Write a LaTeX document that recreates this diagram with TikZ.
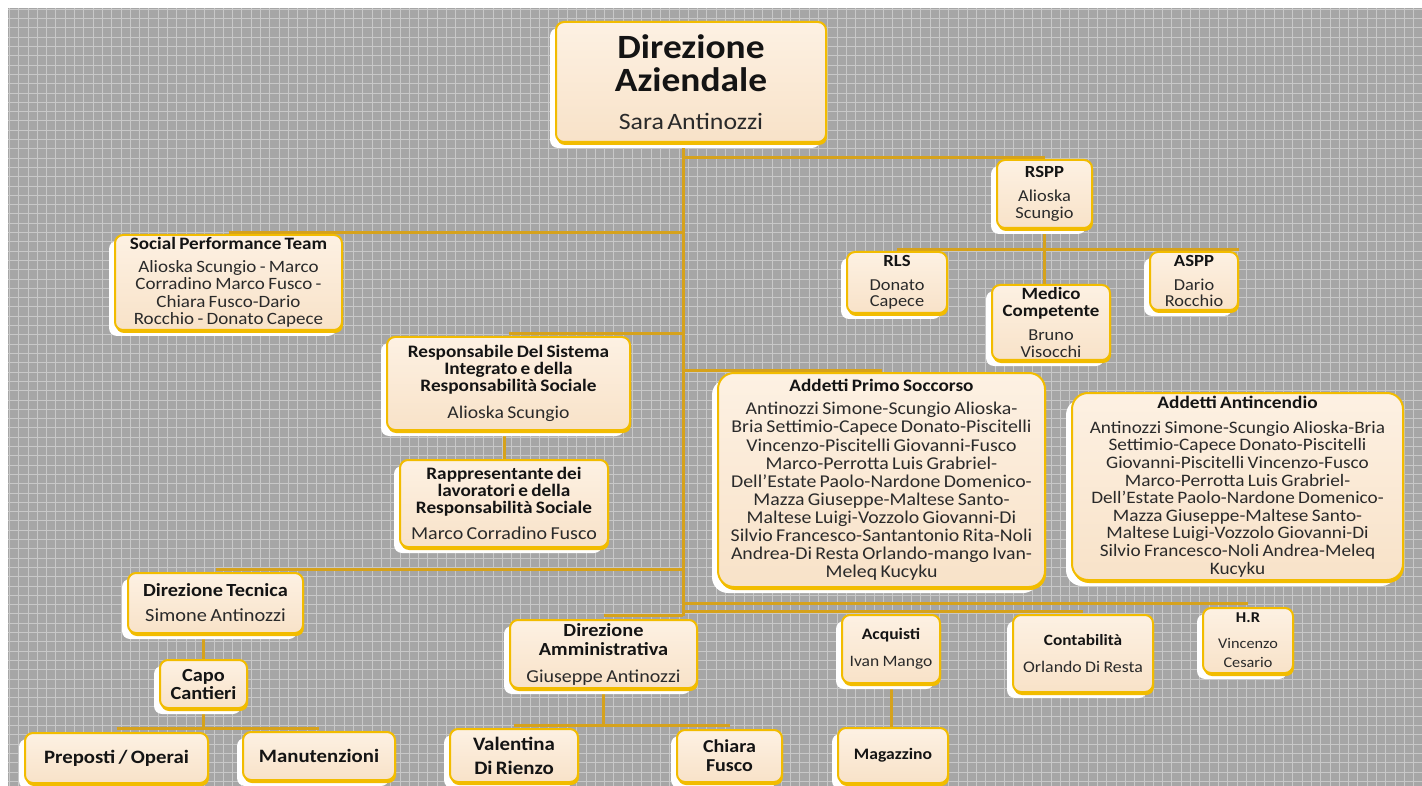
\documentclass[tikz,border=0pt]{standalone}
\usepackage{fontspec}
\setmainfont{Carlito}[FakeStretch=1.1]
\usetikzlibrary{shadows,backgrounds}
\definecolor{bggrey}{HTML}{A6A6A6}
\definecolor{gridc}{HTML}{C8C8C8}
\definecolor{boxgold}{HTML}{F2BC00}
\definecolor{boxfill}{HTML}{F8E2C8}
\definecolor{boxtop}{HTML}{FDF1E3}
\definecolor{linec}{HTML}{D6A21C}
\definecolor{txt}{HTML}{141414}
\definecolor{nametxt}{HTML}{2A2A2A}
\newcommand\Hd[3]{{\fontsize{#1}{#2}\selectfont\bfseries #3\par}}
\newcommand\Nm[3]{{\fontsize{#1}{#2}\selectfont\color{nametxt}#3\par}}
\tikzset{
  box/.style={draw=boxgold, line width=2pt, top color=boxtop, bottom color=boxfill,
    rounded corners=8pt, align=center, inner sep=1pt, text=txt,
    general shadow={fill=white, shadow xshift=-6pt, shadow yshift=-6pt},
    general shadow={fill=boxgold, shadow xshift=1pt, shadow yshift=-3pt}},
  bigbox/.style={box, rounded corners=16pt}
}
\tikzset{conn/.style={draw=linec, line width=3pt}}
\begin{document}
\begin{tikzpicture}[x=1pt,y=-1pt]
\useasboundingbox (0,0) rectangle (1422,786);

% junction coordinates
\coordinate (ttop) at (683,142);
\coordinate (tbot) at (683,616);
\coordinate (j1) at (683,158);
\coordinate (j2) at (683,233);
\coordinate (j3) at (683,334);
\coordinate (j4) at (683,370);
\coordinate (j5) at (683,569);
\coordinate (j6) at (683,615);
\coordinate (j7) at (683,603);
\coordinate (j8) at (683,611);
\coordinate (r1) at (885,250);
\coordinate (cc) at (203.5,728);
\coordinate (dc) at (603.5,725);

% boxes
\node[box, minimum width=270pt, minimum height=120pt, text width=266pt] (da) at (691,82)
  {\Hd{34}{33}{Direzione\\Aziendale}\vspace{14pt}\Nm{23.5}{24}{Sara Antinozzi}};
\node[box, minimum width=95pt, minimum height=68pt, text width=93pt] (rspp) at (1044.5,194)
  {\Hd{17}{17}{RSPP}\vspace{7.5pt}\Nm{16.7}{16.5}{Alioska\\Scungio}};
\node[box, minimum width=100pt, minimum height=61pt, text width=98pt] (rls) at (897,282.5)
  {\Hd{17}{17}{RLS}\vspace{7.5pt}\Nm{16.7}{16}{Donato\\Capece}};
\node[box, minimum width=118pt, minimum height=75pt, text width=116pt] (med) at (1051,322.5)
  {\Hd{17.2}{17}{Medico\\Competente}\vspace{7.5pt}\Nm{16.7}{16.5}{Bruno\\Visocchi}};
\node[box, minimum width=88pt, minimum height=58pt, text width=86pt] (aspp) at (1194,281)
  {\Hd{17}{17}{ASPP}\vspace{7.5pt}\Nm{16.7}{16}{Dario\\Rocchio}};
\node[box, minimum width=227pt, minimum height=95pt, text width=225pt] (spt) at (228.5,282.5)
  {\Hd{17.4}{17}{Social Performance Team}\vspace{5.5pt}\Nm{17.3}{17.5}{Alioska Scungio - Marco\\Corradino Marco Fusco -\\Chiara Fusco-Dario\\Rocchio - Donato Capece}};
\node[box, minimum width=243pt, minimum height=93pt, text width=241pt] (resp) at (508.5,383.5)
  {\Hd{17.5}{16.7}{Responsabile Del Sistema\\Integrato e della\\Responsabilità Sociale}\vspace{9pt}\Nm{17.9}{18}{Alioska Scungio}};
\node[box, minimum width=208pt, minimum height=87pt, text width=206pt] (rapp) at (504,503.5)
  {\Hd{17.5}{17.2}{Rappresentante dei\\lavoratori e della\\Responsabilità Sociale}\vspace{8pt}\Nm{18.2}{18}{Marco Corradino Fusco}};
\node[bigbox, minimum width=327pt, minimum height=214pt, text width=325pt] (aps) at (881.5,480)
  {\Hd{17.5}{18}{Addetti Primo Soccorso}\vspace{5pt}\Nm{18}{18.1}{Antinozzi Simone-Scungio Alioska-\\Bria Settimio-Capece Donato-Piscitelli\\Vincenzo-Piscitelli Giovanni-Fusco\\Marco-Perrotta Luis Grabriel-\\Dell'Estate Paolo-Nardone Domenico-\\Mazza Giuseppe-Maltese Santo-\\Maltese Luigi-Vozzolo Giovanni-Di\\Silvio Francesco-Santantonio Rita-Noli\\Andrea-Di Resta Orlando-mango Ivan-\\Meleq Kucyku}};
\node[bigbox, minimum width=331pt, minimum height=187pt, text width=329pt] (aai) at (1237.5,486.5)
  {\Hd{17.6}{18}{Addetti Antincendio}\vspace{7.4pt}\Nm{17.5}{17.6}{Antinozzi Simone-Scungio Alioska-Bria\\Settimio-Capece Donato-Piscitelli\\Giovanni-Piscitelli Vincenzo-Fusco\\Marco-Perrotta Luis Grabriel-\\Dell'Estate Paolo-Nardone Domenico-\\Mazza Giuseppe-Maltese Santo-\\Maltese Luigi-Vozzolo Giovanni-Di\\Silvio Francesco-Noli Andrea-Meleq\\Kucyku}};
\node[box, minimum width=175pt, minimum height=60pt, text width=173pt] (dt) at (215.5,603)
  {\Hd{18.5}{19}{Direzione Tecnica}\vspace{6pt}\Nm{18.5}{19}{Simone Antinozzi}};
\node[box, minimum width=87pt, minimum height=48pt, text width=85pt] (capo) at (203.5,684)
  {\Hd{18.5}{18}{Capo\\Cantieri}};
\node[box, minimum width=183pt, minimum height=50pt, text width=181pt] (prep) at (116.5,758)
  {\Hd{18.9}{19}{Preposti / Operai}};
\node[box, minimum width=152pt, minimum height=48pt, text width=150pt] (man) at (319,756)
  {\Hd{18.9}{19}{Manutenzioni}};
\node[box, minimum width=187pt, minimum height=68pt, text width=185pt] (dam) at (603.5,654)
  {\Hd{18.5}{19}{Direzione\\Amministrativa}\vspace{8pt}\Nm{18.2}{19}{Giuseppe Antinozzi}};
\node[box, minimum width=128pt, minimum height=53pt, text width=126pt] (val) at (514,755.5)
  {\Hd{19}{24}{Valentina\\Di Rienzo}};
\node[box, minimum width=105pt, minimum height=52pt, text width=103pt] (chi) at (729.5,756)
  {\Hd{18.2}{19}{Chiara\\Fusco}};
\node[box, minimum width=98pt, minimum height=68pt, text width=96pt] (acq) at (891,649)
  {\Hd{16}{17}{Acquisti}\vspace{10pt}\Nm{15.9}{17}{Ivan Mango}};
\node[box, minimum width=110pt, minimum height=55pt, text width=108pt] (mag) at (893,755.5)
  {\Hd{16}{17}{Magazzino}};
\node[box, minimum width=140pt, minimum height=77pt, text width=138pt] (cont) at (1083,653.5)
  {\Hd{15.7}{17}{Contabilità}\vspace{10pt}\Nm{16.2}{17}{Orlando Di Resta}};
\node[box, minimum width=90pt, minimum height=65pt, text width=88pt] (hr) at (1248,640.5)
  {\Hd{15}{16}{H.R}\vspace{7pt}\Nm{14.8}{19}{Vincenzo\\Cesario}};

% background and grid
\begin{scope}[on background layer]
\fill[white] (0,0) rectangle (1422,786);
\fill[bggrey] (8,8) rectangle (1422,786);
\begin{scope}
\clip (8,8) rectangle (1422,786);
\draw[gridc, line width=0.8pt, xstep=9.3pt, ystep=9.3pt] (8,8) grid (1422,786);
\end{scope}
\end{scope}

% connectors, behind the boxes
\begin{scope}[on background layer]
\draw[conn] (ttop) -- (tbot);
\draw[conn] (j1) -- (j1 -| rspp.north);
\draw[conn] (j2) -- (j2 -| spt.north);
\draw[conn] (j3) -- (j3 -| resp.north);
\draw[conn] (j4) -- (j4 -| aps.north);
\draw[conn] (j5) -- (j5 -| dt.north);
\draw[conn] (j6) -- (j6 -| dam.north);
\draw[conn] (j7) -- (j7 -| hr.north);
\draw[conn] (j8) -- (j8 -| cont.north);
\draw[conn] (j8) -- (j8 -| acq.north);
\draw[conn] (rspp.south) -- (rspp.south |- med.north);
\draw[conn] (rls.north |- r1) -- (aspp.north east |- r1);
\draw[conn] (rapp.north |- resp.south) -- (rapp.north);
\draw[conn] (capo.north |- dt.south) -- (capo.north);
\draw[conn] (capo.south) -- (cc);
\draw[conn] (prep.north |- cc) -- (man.north |- cc);
\draw[conn] (dam.south) -- (dc);
\draw[conn] (val.north |- dc) -- (chi.north |- dc);
\draw[conn] (acq.south) -- (acq.south |- mag.north);
\end{scope}
\end{tikzpicture}
\end{document}
